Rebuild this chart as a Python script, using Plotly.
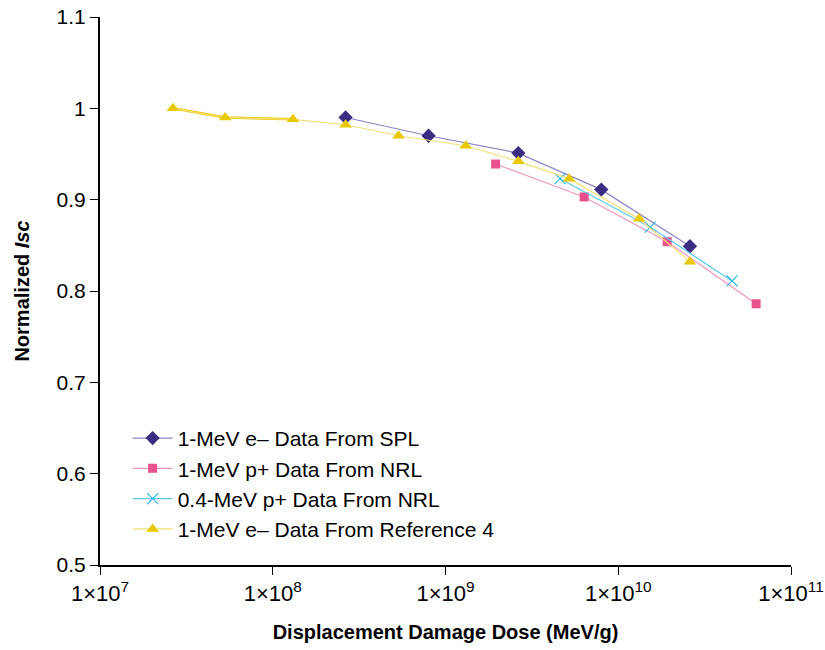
import plotly.graph_objects as go

# Data
spl_x = [2.64e8, 7.98e8, 2.64e9, 7.98e9, 2.6e10]
spl_y = [0.990, 0.970, 0.951, 0.911, 0.849]

nrl1_x = [1.95e9, 6.35e9, 1.92e10, 6.28e10]
nrl1_y = [0.939, 0.903, 0.854, 0.786]

nrl04_x = [4.6e9, 1.53e10, 4.56e10]
nrl04_y = [0.923, 0.870, 0.811]

ref4_x = [2.64e7, 5.3e7, 1.31e8, 2.64e8, 5.35e8, 1.31e9, 2.64e9, 5.2e9, 1.32e10, 2.6e10]
ref4_y = [1.000, 0.990, 0.988, 0.982, 0.970, 0.959, 0.942, 0.923, 0.879, 0.832]

x_tickvals = [1e7, 1e8, 1e9, 1e10, 1e11]
x_ticktext = ["1×10<sup>7</sup>", "1×10<sup>8</sup>", "1×10<sup>9</sup>",
              "1×10<sup>10</sup>", "1×10<sup>11</sup>"]
y_tickvals = [0.5, 0.6, 0.7, 0.8, 0.9, 1.0, 1.1]
y_ticktext = ["0.5", "0.6", "0.7", "0.8", "0.9", "1", "1.1"]

FONT = "Liberation Sans"

fig = go.Figure()

# thicker early segment of the reference-4 curve
fig.add_trace(go.Scatter(x=ref4_x[:3], y=ref4_y[:3], mode="lines",
                         line=dict(color="#e8c800", width=2.5),
                         showlegend=False, hoverinfo="skip"))

fig.add_trace(go.Scatter(x=spl_x, y=spl_y, mode="lines+markers",
                         name="1-MeV e– Data From SPL",
                         line=dict(color="#8f86c4", width=1.2),
                         marker=dict(symbol="diamond", size=11, color="#3a2d82")))
fig.add_trace(go.Scatter(x=nrl1_x, y=nrl1_y, mode="lines+markers",
                         name="1-MeV p+ Data From NRL",
                         line=dict(color="#f097be", width=1.2),
                         marker=dict(symbol="square", size=9, color="#e8508e")))
fig.add_trace(go.Scatter(x=nrl04_x, y=nrl04_y, mode="lines+markers",
                         name="0.4-MeV p+ Data From NRL",
                         line=dict(color="#5bc8ee", width=1.2),
                         marker=dict(symbol="x-thin", size=11,
                                     line=dict(color="#29b6e8", width=1.2))))
fig.add_trace(go.Scatter(x=ref4_x, y=ref4_y, mode="lines+markers",
                         name="1-MeV e– Data From Reference 4",
                         line=dict(color="#f3e07a", width=1.2),
                         marker=dict(symbol="triangle-up", size=11, color="#e8c800")))

fig.update_layout(
    width=825, height=650,
    margin=dict(l=100, r=34, t=17, b=85),
    paper_bgcolor="white", plot_bgcolor="white",
    font=dict(family=FONT, size=20, color="black"),
    showlegend=True,
    legend=dict(x=0.04, y=0.148, xanchor="left", yanchor="middle",
                bgcolor="rgba(0,0,0,0)", font=dict(family=FONT, size=21, color="black"),
                itemwidth=40, tracegroupgap=0),
    xaxis=dict(type="log", range=[7, 11], tickvals=x_tickvals, ticktext=x_ticktext,
               showgrid=False, zeroline=False, showline=True, linecolor="black",
               linewidth=2, ticks="outside", ticklen=8, tickwidth=1.2, tickcolor="black",
               tickfont=dict(family=FONT, size=22, color="black"), automargin=False,
               title=dict(text="<b>Displacement Damage Dose (MeV/g)</b>",
                          font=dict(family=FONT, size=20, color="black"), standoff=20)),
    yaxis=dict(range=[0.5, 1.1], tickvals=y_tickvals, ticktext=y_ticktext,
               showgrid=False, zeroline=False, showline=True, linecolor="black",
               linewidth=2, ticks="outside", ticklen=8, tickwidth=1.2, tickcolor="black",
               tickfont=dict(family=FONT, size=21, color="black"), automargin=False,
               title=dict(text="<b>Normalized <i>Isc</i></b>",
                          font=dict(family=FONT, size=20, color="black"), standoff=22)),
)

fig.write_html("out.html")
